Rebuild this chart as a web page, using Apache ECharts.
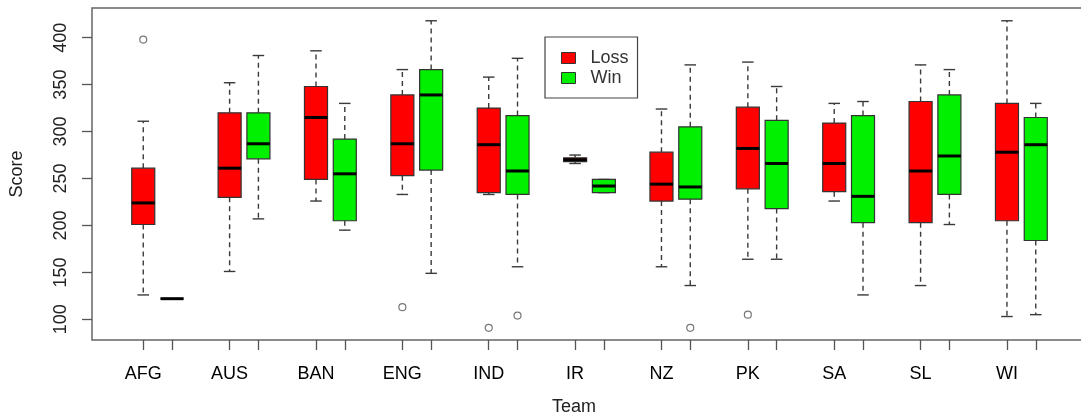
<!DOCTYPE html>
<html>
<head>
<meta charset="utf-8">
<script src="https://cdn.jsdelivr.net/npm/echarts@6/dist/echarts.min.js"></script>
<style>
  html, body { margin: 0; padding: 0; background: #fff; }
  #chart { width: 1081px; height: 416px; }
</style>
</head>
<body>
<div id="chart"></div>
<script>
// Teams along the x axis
const teams = ['AFG', 'AUS', 'BAN', 'ENG', 'IND', 'IR', 'NZ', 'PK', 'SA', 'SL', 'WI'];

// Five-number summaries per team: [lower whisker, Q1, median, Q3, upper whisker]
const lossStats = [
  [126, 201, 224, 261, 311],
  [151, 230, 261, 320, 352],
  [226, 249, 315, 348, 386],
  [233, 253, 287, 339, 366],
  [233, 235, 286, 325, 358],
  [266, 268, 270, 272, 275],
  [156, 226, 244, 278, 324],
  [164, 239, 282, 326, 374],
  [226, 236, 266, 309, 330],
  [136, 203, 258, 332, 371],
  [103, 205, 278, 330, 418]
];
const winStats = [
  [122, 122, 122, 122, 122],
  [207, 271, 287, 320, 381],
  [195, 205, 255, 292, 330],
  [149, 259, 339, 366, 418],
  [156, 233, 258, 317, 378],
  [235, 235, 242, 249, 249],
  [136, 228, 241, 305, 371],
  [164, 218, 266, 312, 348],
  [126, 203, 231, 317, 332],
  [201, 233, 274, 339, 366],
  [105, 184, 286, 315, 330]
];

// Outlying scores: [team index, score]
const lossOutliers = [[0, 398], [3, 113], [4, 91], [7, 105]];
const winOutliers = [[4, 104], [6, 91]];

// Score axis tick labels
const yTicks = [100, 150, 200, 250, 300, 350, 400];

// Box slots: Loss at 1, 4, 7, ...; Win right next to it; one empty slot between teams
const lossPos = i => 1 + 3 * i;
const winPos = i => 2 + 3 * i;
const BOX_HALF = 0.4;
const CAP_HALF = 0.2;

const FONT = '"Liberation Sans", Arial, Helvetica, sans-serif';

function renderBox(params, api) {
  const x = api.value(0);
  const lo = api.value(1), q1 = api.value(2), med = api.value(3), q3 = api.value(4), hi = api.value(5);
  const cx = api.coord([x, med])[0];
  const xl = api.coord([x - BOX_HALF, med])[0];
  const xr = api.coord([x + BOX_HALF, med])[0];
  const cl = api.coord([x - CAP_HALF, med])[0];
  const cr = api.coord([x + CAP_HALF, med])[0];
  const y = v => api.coord([x, v])[1];
  const whisker = { stroke: '#3a3a3a', lineWidth: 1.4, lineDash: [5, 4] };
  const cap = { stroke: '#3a3a3a', lineWidth: 1.4 };
  const children = [];
  if (hi > q3) {
    children.push({ type: 'line', shape: { x1: cx, y1: y(q3), x2: cx, y2: y(hi) }, style: whisker });
  }
  if (lo < q1) {
    children.push({ type: 'line', shape: { x1: cx, y1: y(q1), x2: cx, y2: y(lo) }, style: whisker });
  }
  children.push({ type: 'line', shape: { x1: cl, y1: y(hi), x2: cr, y2: y(hi) }, style: cap });
  children.push({ type: 'line', shape: { x1: cl, y1: y(lo), x2: cr, y2: y(lo) }, style: cap });
  children.push({
    type: 'rect',
    shape: { x: xl, y: y(q3), width: xr - xl, height: y(q1) - y(q3) },
    style: { fill: api.visual('color'), stroke: '#333', lineWidth: 1.2 }
  });
  children.push({
    type: 'line',
    shape: { x1: xl, y1: y(med), x2: xr, y2: y(med) },
    style: { stroke: '#000', lineWidth: 3 }
  });
  return { type: 'group', children };
}

const lossData = lossStats.map((s, i) => [lossPos(i)].concat(s));
const winData = winStats.map((s, i) => [winPos(i)].concat(s));
const outlierData = lossOutliers.map(([i, v]) => [lossPos(i), v])
  .concat(winOutliers.map(([i, v]) => [winPos(i), v]));

const tickPositions = [];
teams.forEach((t, i) => { tickPositions.push(lossPos(i), winPos(i)); });
const labelPositions = teams.map((t, i) => lossPos(i));

const chart = echarts.init(document.getElementById('chart'), null, { renderer: 'canvas' });
chart.setOption({
  animation: false,
  backgroundColor: '#fff',
  textStyle: { fontFamily: FONT },
  grid: {
    left: 92, top: 8, bottom: 76, right: -6,
    outerBoundsMode: 'none',
    show: true, borderColor: '#666', borderWidth: 1.5, backgroundColor: 'transparent'
  },
  legend: {
    data: ['Loss', 'Win'],
    orient: 'vertical',
    left: 545, top: 37,
    icon: 'rect',
    itemWidth: 14, itemHeight: 11, itemGap: 0,
    padding: [11, 9, 10, 16],
    borderColor: '#444', borderWidth: 1.2,
    selectedMode: false,
    itemStyle: { borderColor: '#333', borderWidth: 1 },
    textStyle: { fontSize: 18, color: '#333', fontFamily: FONT, lineHeight: 20, padding: [0, 0, 0, 10] }
  },
  xAxis: {
    type: 'value',
    min: -0.78, max: 33.78,
    name: 'Team',
    nameLocation: 'middle',
    nameGap: 58,
    nameTextStyle: { fontSize: 18, color: '#222', fontFamily: FONT, padding: [0, 31, 0, 0] },
    axisLine: { show: false, onZero: false },
    splitLine: { show: false },
    axisTick: { show: true, length: 10, customValues: tickPositions, lineStyle: { color: '#555', width: 1.3 } },
    axisLabel: {
      customValues: labelPositions,
      margin: 25,
      fontSize: 18,
      color: '#000',
      fontFamily: FONT,
      formatter: v => teams[Math.round((v - 1) / 3)]
    }
  },
  yAxis: {
    type: 'value',
    min: 78, max: 431.6,
    name: 'Score',
    nameLocation: 'middle',
    nameGap: 66,
    nameTextStyle: { fontSize: 18, color: '#222', fontFamily: FONT },
    axisLine: { show: false, onZero: false },
    splitLine: { show: false },
    axisTick: { show: true, length: 10, customValues: yTicks, lineStyle: { color: '#555', width: 1.3 } },
    axisLabel: {
      customValues: yTicks,
      rotate: 90,
      margin: 22,
      fontSize: 18,
      color: '#222',
      fontFamily: FONT
    }
  },
  series: [
    {
      name: 'Loss', type: 'custom', renderItem: renderBox,
      itemStyle: { color: '#FF0000', borderColor: '#333', borderWidth: 1 },
      encode: { x: 0, y: [1, 2, 3, 4, 5] },
      data: lossData, z: 3
    },
    {
      name: 'Win', type: 'custom', renderItem: renderBox,
      itemStyle: { color: '#00F000', borderColor: '#333', borderWidth: 1 },
      encode: { x: 0, y: [1, 2, 3, 4, 5] },
      data: winData, z: 3
    },
    {
      name: 'Outliers', type: 'scatter',
      symbol: 'circle', symbolSize: 7,
      itemStyle: { color: '#fff', borderColor: '#555', borderWidth: 1.2 },
      data: outlierData, z: 4
    }
  ]
});
</script>
</body>
</html>
